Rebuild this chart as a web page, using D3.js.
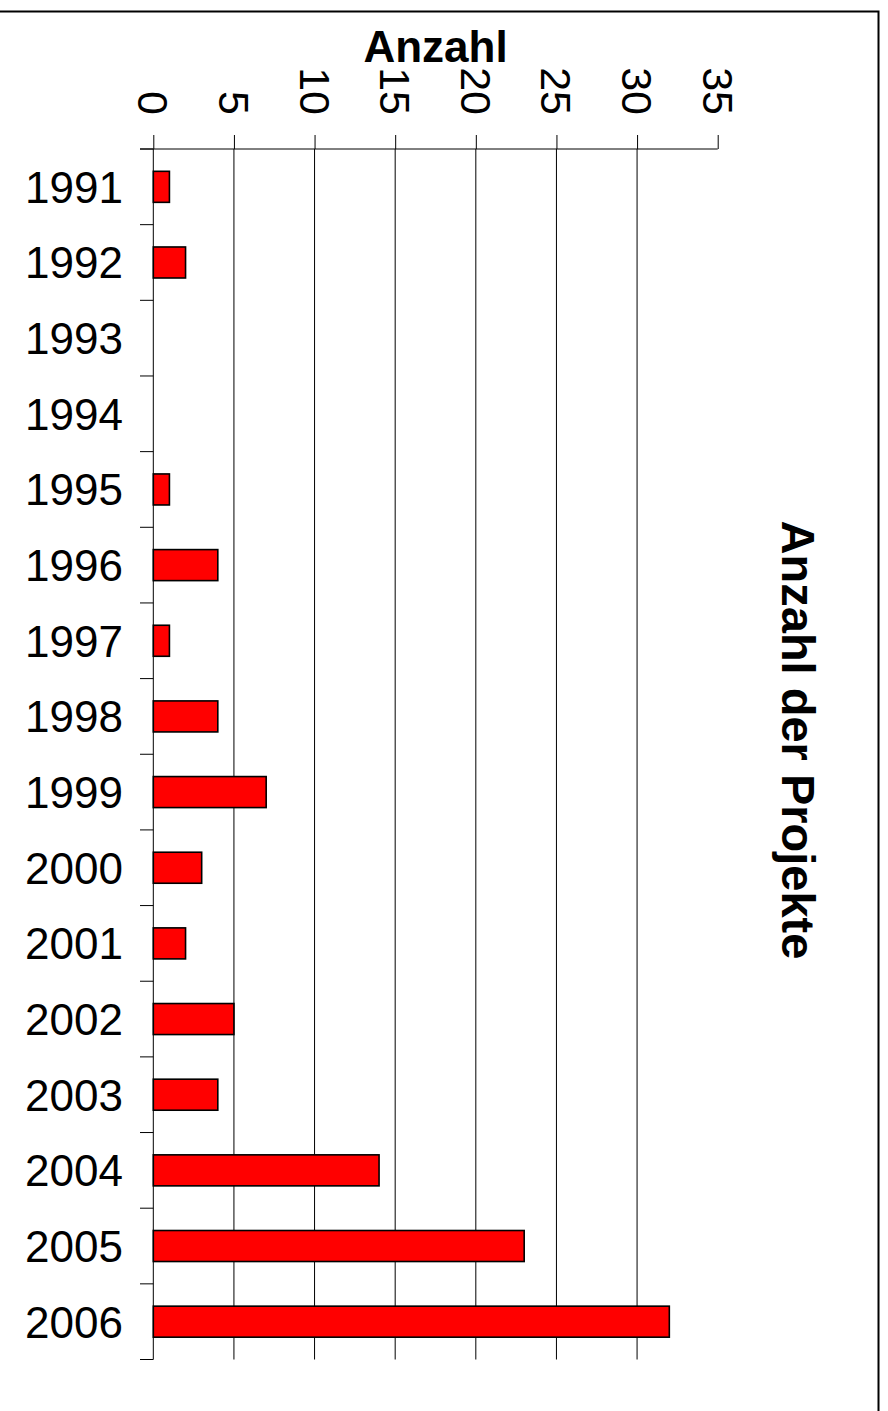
<!DOCTYPE html>
<html>
<head>
<meta charset="utf-8">
<script src="https://cdn.jsdelivr.net/npm/d3@7"></script>
<style>
  html, body { margin: 0; padding: 0; background: #fff; }
  svg { display: block; font-family: "Liberation Sans", Arial, sans-serif; }
</style>
</head>
<body>
<svg id="chart" width="888" height="1411"></svg>
<script>
const years = ["1991","1992","1993","1994","1995","1996","1997","1998","1999","2000","2001","2002","2003","2004","2005","2006"];
const counts = [1, 2, 0, 0, 1, 4, 1, 4, 7, 3, 2, 5, 4, 14, 23, 32];
const xTicks = [0, 5, 10, 15, 20, 25, 30, 35];
const xTitle = "Anzahl";
const yTitle = "Anzahl der Projekte";

(function () {
const svg = d3.select("#chart");
const W = 888, H = 1411;

svg.append("rect").attr("x", 0).attr("y", 0).attr("width", W).attr("height", H).attr("fill", "#fff");

// outer frame (left and bottom edges lie outside the picture)
svg.append("rect")
  .attr("x", -10).attr("y", 11.5)
  .attr("width", 878.5 + 10).attr("height", H + 20)
  .attr("fill", "none").attr("stroke", "#000").attr("stroke-width", 2);

const pL = 153.3, pR = 717.7, pT = 149, pB = 1359.5;

const x = d3.scaleLinear().domain([0, 35]).range([pL, pR]);
const y = d3.scaleBand().domain(years).range([pT, pB]).padding(0);
const barFrac = 0.41;

// gridlines
svg.append("g").selectAll("line")
  .data(xTicks.filter(t => t > 0 && t < 35))
  .join("line")
  .attr("x1", d => x(d)).attr("x2", d => x(d))
  .attr("y1", pT).attr("y2", pB)
  .attr("stroke", "#000").attr("stroke-width", 1);

// top axis
const xAxis = d3.axisTop(x).tickValues(xTicks).tickSize(14).tickSizeOuter(0);
const gx = svg.append("g").attr("transform", `translate(0,${pT})`).call(xAxis);
gx.select(".domain").remove();
gx.selectAll(".tick line").attr("stroke", "#000").attr("stroke-width", 1);
gx.append("line").attr("x1", 140).attr("x2", pR).attr("y1", 0).attr("y2", 0)
  .attr("stroke", "#000").attr("stroke-width", 1);
gx.selectAll(".tick text")
  .attr("transform", "rotate(90)")
  .attr("x", -34).attr("y", 0).attr("dy", "0.36em")
  .attr("text-anchor", "end")
  .attr("fill", "#000")
  .style("font-size", "43px")
  .style("font-family", "'Liberation Sans', Arial, sans-serif");

// left axis line and boundary ticks
svg.append("line").attr("x1", pL).attr("x2", pL).attr("y1", pT).attr("y2", pB)
  .attr("stroke", "#000").attr("stroke-width", 1);
const bounds = years.map(d => y(d)).concat([pB]);
svg.append("g").selectAll("line").data(bounds).join("line")
  .attr("x1", 140).attr("x2", pL).attr("y1", d => d).attr("y2", d => d)
  .attr("stroke", "#000").attr("stroke-width", 1);

// year labels
svg.append("g").selectAll("text").data(years).join("text")
  .attr("x", 123)
  .attr("y", d => y(d) + y.bandwidth() / 2)
  .attr("dy", "0.36em")
  .attr("text-anchor", "end")
  .style("font-size", "44px")
  .text(d => d);

// bars
const bh = y.bandwidth() * barFrac;
svg.append("g").selectAll("rect")
  .data(years.map((d, i) => ({ year: d, v: counts[i] })).filter(d => d.v > 0))
  .join("rect")
  .attr("x", x(0))
  .attr("y", d => y(d.year) + (y.bandwidth() - bh) / 2)
  .attr("width", d => x(d.v) - x(0))
  .attr("height", bh)
  .attr("fill", "#ff0000")
  .attr("stroke", "#000")
  .attr("stroke-width", 1.6);

// titles
svg.append("text")
  .attr("x", (pL + pR) / 2).attr("y", 61.5)
  .attr("text-anchor", "middle")
  .style("font-size", "44px").style("font-weight", "bold")
  .text(xTitle);

svg.append("text")
  .attr("transform", "translate(782,740) rotate(90)")
  .attr("text-anchor", "middle")
  .style("font-size", "47px").style("font-weight", "bold")
  .text(yTitle);
})();
</script>
</body>
</html>
